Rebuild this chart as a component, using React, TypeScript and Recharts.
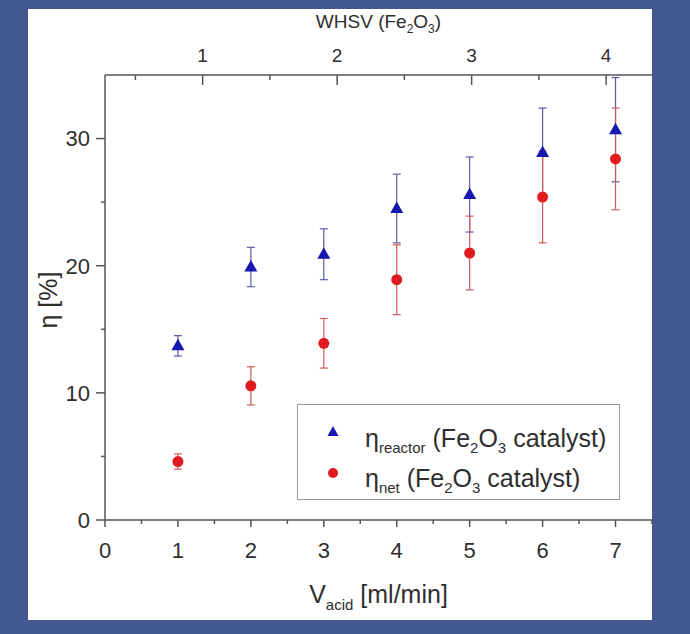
import React from 'react';
import { ScatterChart, Scatter, XAxis, YAxis, ErrorBar, Legend } from 'recharts';

// flow rate of acid [ml/min]
const vAcid = [1, 2, 3, 4, 5, 6, 7];
// efficiency, reactor and net, with their error
const etaReactor = [13.7, 19.9, 20.9, 24.5, 25.6, 28.9, 30.7];
const etaReactorErr = [0.8, 1.55, 2.0, 2.7, 2.95, 3.5, 4.1];
const etaNet = [4.6, 10.55, 13.9, 18.9, 21.0, 25.4, 28.4];
const etaNetErr = [0.6, 1.5, 1.95, 2.75, 2.9, 3.6, 4.0];

const xTicks = [0, 0.5, 1, 1.5, 2, 2.5, 3, 3.5, 4, 4.5, 5, 5.5, 6, 6.5, 7, 7.5];
const yTicks = [0, 5, 10, 15, 20, 25, 30];
const whsvTicks = [0.5, 1, 1.5, 2, 2.5, 3, 3.5, 4];
const whsvDomain = [0.274, 4.341];

const reactorData = vAcid.map((v, i) => ({ v, eta: etaReactor[i], err: etaReactorErr[i] }));
const netData = vAcid.map((v, i) => ({ v, eta: etaNet[i], err: etaNetErr[i] }));

const FONT = '"Liberation Sans", Arial, Helvetica, sans-serif';
const AXIS = '#555';
const TEXT = '#2e2e2e';
const BLUE = '#1717b0';
const RED = '#e01b1f';

const BottomTick = (props: any) => {
  const { x, y, payload } = props;
  const major = Number.isInteger(payload.value);
  return (
    <g>
      <line x1={x} x2={x} y1={y} y2={y + (major ? 7 : 4)} stroke={AXIS} strokeWidth={1.5} />
      {major && (
        <text x={x} y={y + 38} textAnchor="middle" fontSize={22} fill={TEXT} fontFamily={FONT}>
          {payload.value}
        </text>
      )}
    </g>
  );
};

const TopTick = (props: any) => {
  const { x, y, payload } = props;
  const major = Number.isInteger(payload.value);
  return (
    <g>
      <line x1={x} x2={x} y1={y} y2={y + (major ? 10 : 5)} stroke={AXIS} strokeWidth={1.5} />
      {major && (
        <text x={x} y={y - 13} textAnchor="middle" fontSize={19} fill={TEXT} fontFamily={FONT}>
          {payload.value}
        </text>
      )}
    </g>
  );
};

const LeftTick = (props: any) => {
  const { x, y, payload } = props;
  const major = payload.value % 10 === 0;
  return (
    <g>
      <line x1={x - (major ? 9 : 4)} x2={x} y1={y} y2={y} stroke={AXIS} strokeWidth={1.5} />
      {major && (
        <text x={x - 15} y={y} dy="0.36em" textAnchor="end" fontSize={22} fill={TEXT} fontFamily={FONT}>
          {payload.value}
        </text>
      )}
    </g>
  );
};

const Triangle = (props: any) => {
  const { cx, cy } = props;
  return <polygon points={`${cx},${cy - 7} ${cx - 6.5},${cy + 4.5} ${cx + 6.5},${cy + 4.5}`} fill={BLUE} />;
};

const Dot = (props: any) => {
  const { cx, cy } = props;
  return <circle cx={cx} cy={cy} r={5.5} fill={RED} />;
};

const Nothing = () => <g />;

const xLabel = () => (
  <text x={378.5} y={603} textAnchor="middle" fontSize={25} fill={TEXT} fontFamily={FONT} style={{ whiteSpace: 'pre' }}>
    V<tspan dy={7} fontSize={15}>acid</tspan>
    <tspan dy={-7}> [ml/min]</tspan>
  </text>
);

const yLabel = () => (
  <text
    x={0}
    y={0}
    transform="translate(57,300) rotate(-90)"
    textAnchor="middle"
    fontSize={25}
    fill={TEXT}
    fontFamily={FONT}
  >
    η [%]
  </text>
);

const topLabel = () => (
  <text x={378.5} y={28} textAnchor="middle" fontSize={19} fill={TEXT} fontFamily={FONT} style={{ whiteSpace: 'pre' }}>
    WHSV (Fe<tspan dy={5} fontSize={12}>2</tspan>
    <tspan dy={-5}>O</tspan>
    <tspan dy={5} fontSize={12}>3</tspan>
    <tspan dy={-5}>)</tspan>
  </text>
);

const LegendBox = () => (
  <svg width={323} height={96} style={{ display: 'block' }}>
    <rect x={0.5} y={0.5} width={322} height={95} fill="#fff" stroke="#9a9a9a" strokeWidth={1} />
    <polygon points="36,22 30.5,32 41.5,32" fill={BLUE} />
    <circle cx={36} cy={69} r={5} fill={RED} />
    <text x={68} y={43} fontSize={25} fill={TEXT} fontFamily={FONT} style={{ whiteSpace: 'pre' }}>
      η<tspan dy={6} fontSize={15}>reactor</tspan>
      <tspan dy={-6}> (Fe</tspan>
      <tspan dy={6} fontSize={15}>2</tspan>
      <tspan dy={-6}>O</tspan>
      <tspan dy={6} fontSize={15}>3</tspan>
      <tspan dy={-6}> catalyst)</tspan>
    </text>
    <text x={68} y={83} fontSize={25} fill={TEXT} fontFamily={FONT} style={{ whiteSpace: 'pre' }}>
      η<tspan dy={6} fontSize={15}>net</tspan>
      <tspan dy={-6}> (Fe</tspan>
      <tspan dy={6} fontSize={15}>2</tspan>
      <tspan dy={-6}>O</tspan>
      <tspan dy={6} fontSize={15}>3</tspan>
      <tspan dy={-6}> catalyst)</tspan>
    </text>
  </svg>
);

export default function App() {
  return (
    <div style={{ position: 'absolute', left: 0, top: 0, width: 690, height: 634, background: '#43588f' }}>
      <div style={{ position: 'absolute', left: 28, top: 9, width: 624, height: 611, background: '#fff' }} />
      <div style={{ position: 'absolute', left: 0, top: 0 }}>
        <ScatterChart width={690} height={634} margin={{ top: 35, right: 38, bottom: 64, left: 45 }}>
          <XAxis
            xAxisId="bottom"
            dataKey="v"
            type="number"
            domain={[0, 7.5]}
            ticks={xTicks}
            interval={0}
            allowDataOverflow
            height={50}
            tickSize={0}
            tickMargin={0}
            tickLine={false}
            tick={<BottomTick />}
            axisLine={{ stroke: AXIS, strokeWidth: 1.5 }}
            label={xLabel}
          />
          <XAxis
            xAxisId="top"
            dataKey="v"
            orientation="top"
            type="number"
            domain={whsvDomain}
            ticks={whsvTicks}
            interval={0}
            allowDataOverflow
            height={40}
            tickSize={0}
            tickMargin={0}
            tickLine={false}
            tick={<TopTick />}
            axisLine={{ stroke: AXIS, strokeWidth: 1.5 }}
            label={topLabel}
          />
          <YAxis
            dataKey="eta"
            type="number"
            domain={[0, 35]}
            ticks={yTicks}
            interval={0}
            allowDataOverflow
            width={60}
            tickSize={0}
            tickMargin={0}
            tickLine={false}
            tick={<LeftTick />}
            axisLine={{ stroke: AXIS, strokeWidth: 1.5 }}
            label={yLabel}
          />
          <Legend
            layout="vertical"
            align="center"
            verticalAlign="middle"
            content={() => <LegendBox />}
            wrapperStyle={{ left: 297, top: 404, width: 323, height: 96 }}
          />
          {/* keeps the WHSV axis bound to a series so its ticks are drawn */}
          <Scatter
            name="whsv"
            data={reactorData}
            xAxisId="top"
            shape={<Nothing />}
            legendType="none"
            isAnimationActive={false}
          />
          <Scatter
            name="reactor"
            data={reactorData}
            xAxisId="bottom"
            shape={<Triangle />}
            isAnimationActive={false}
          >
            <ErrorBar dataKey="err" direction="y" width={4} stroke="#5a5aa6" strokeWidth={1.2} isAnimationActive={false} />
          </Scatter>
          <Scatter name="net" data={netData} xAxisId="bottom" shape={<Dot />} isAnimationActive={false}>
            <ErrorBar dataKey="err" direction="y" width={4} stroke="#cc5b5b" strokeWidth={1.2} isAnimationActive={false} />
          </Scatter>
        </ScatterChart>
      </div>
    </div>
  );
}
